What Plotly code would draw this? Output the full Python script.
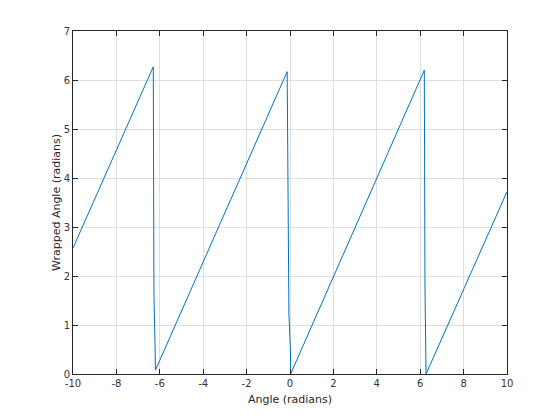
import plotly.graph_objects as go

# Vertices of the wrapped-angle sawtooth
angle = [-10, -6.30, -6.29, -6.27, -6.22, -6.20, -0.13, -0.12, -0.09, -0.05, 0.02, 0.03, 6.19, 6.20, 6.22, 6.27, 10]
wrapped = [2.57, 6.27, 4.72, 1.63, 0.60, 0.08, 6.17, 5.30, 3.22, 1.22, 0.5, 0.0, 6.20, 4.80, 1.80, 0.0, 3.72]

x_ticks = [-10, -8, -6, -4, -2, 0, 2, 4, 6, 8, 10]
x_tick_labels = ["-10", "-8", "-6", "-4", "-2", "0", "2", "4", "6", "8", "10"]
y_ticks = [0, 1, 2, 3, 4, 5, 6, 7]

fig = go.Figure()
fig.add_trace(go.Scatter(x=angle, y=wrapped, mode="lines",
                         line=dict(color="#0072BD", width=1), showlegend=False))

axis_common = dict(
    showline=True, linecolor="#262626", linewidth=1, mirror="ticks",
    ticks="inside", ticklen=5, tickcolor="#262626", tickwidth=1,
    showgrid=True, gridcolor="#dedede", gridwidth=1, zeroline=False,
    tickfont=dict(family="DejaVu Sans", size=10, color="#333333"),
)

fig.update_layout(
    width=560, height=420,
    paper_bgcolor="white", plot_bgcolor="white",
    margin=dict(l=65, r=61, t=23, b=54),
    xaxis=dict(range=[-10, 10], tickvals=x_ticks, ticktext=x_tick_labels,
               title=dict(text="Angle (radians)", standoff=7,
                          font=dict(family="DejaVu Sans", size=11, color="#262626")),
               **axis_common),
    yaxis=dict(range=[0, 7], tickvals=y_ticks,
               title=dict(text="Wrapped Angle (radians)", standoff=0,
                          font=dict(family="DejaVu Sans", size=11, color="#262626")),
               **axis_common),
)

fig.write_html("out.html")
